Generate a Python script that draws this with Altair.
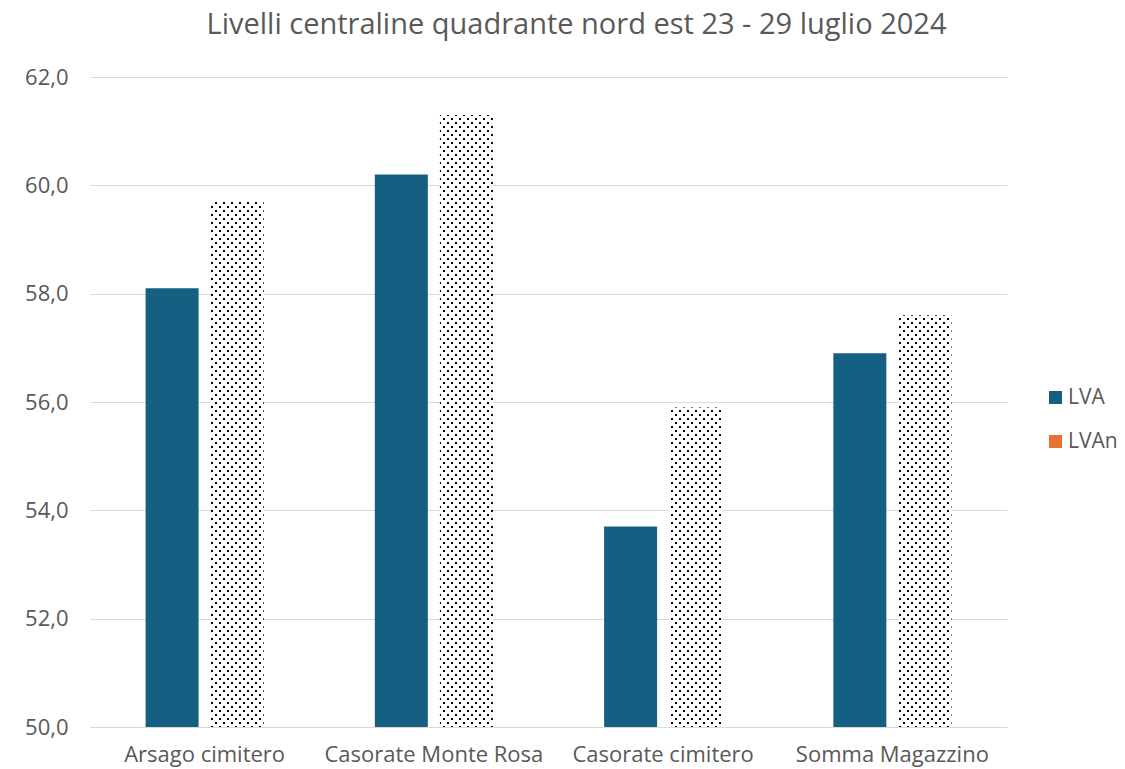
import altair as alt
import pandas as pd
import jinja2

sites = ["Arsago cimitero", "Casorate Monte Rosa", "Casorate cimitero", "Somma Magazzino"]
lva = [58.1, 60.2, 53.7, 56.9]
lvan = [59.7, 61.3, 55.9, 57.6]
series = ["LVA", "LVAn"]
y_ticks = [50, 52, 54, 56, 58, 60, 62]

rows = []
for s, a, b in zip(sites, lva, lvan):
    rows.append({"site": s, "series": "LVA", "value": a})
    rows.append({"site": s, "series": "LVAn", "value": b})
df = pd.DataFrame(rows)

FONT = "Open Sans"
TXT = "#595959"
GRID = "#D9D9D9"

bars = alt.Chart(df).mark_bar(strokeWidth=0).encode(
    x=alt.X("site:N", sort=sites, title=None,
            scale=alt.Scale(paddingInner=0.485, paddingOuter=0.2425),
            axis=alt.Axis(labelAngle=0, labelFontSize=22, labelColor=TXT, labelFont=FONT,
                          ticks=False, domainColor=GRID, domainWidth=1, labelPadding=17,
                          labelOverlap=False, labelLimit=0)),
    xOffset=alt.XOffset("series:N", sort=series,
                        scale=alt.Scale(paddingInner=0.185, paddingOuter=0)),
    y=alt.Y("value:Q", title=None,
            scale=alt.Scale(domain=[50, 62], nice=False, zero=False),
            axis=alt.Axis(values=y_ticks, labelExpr="replace(format(datum.value, '.1f'), '.', ',')",
                          labelFontSize=22, labelColor=TXT, labelFont=FONT, ticks=False,
                          domain=False, gridColor=GRID, gridWidth=1, labelPadding=22)),
    y2=alt.datum(50),
    fill=alt.condition(
        "datum.series == 'LVAn'",
        alt.value("url(#dots)"),
        alt.Fill("series:N", sort=series, title=None,
                 scale=alt.Scale(domain=series, range=["#156082", "#E97132"]),
                 legend=alt.Legend(orient="none", legendX=955, legendY=310,
                                   symbolType="square", symbolSize=170, symbolStrokeWidth=0,
                                   labelFontSize=21, labelColor=TXT, labelFont=FONT,
                                   rowPadding=22, labelOffset=2)),
    ),
)

chart = bars.properties(
    width=917,
    height=650,
    title=alt.Title("Livelli centraline quadrante nord est 23 - 29 luglio 2024",
                    fontSize=29, font=FONT, fontWeight="normal", color=TXT,
                    anchor="middle", dx=28, offset=26),
    padding={"left": 82, "top": 69, "right": 110, "bottom": 42},
    autosize=alt.AutoSizeParams(type="none"),
).configure(background="white").configure_view(stroke=None)

TEMPLATE = jinja2.Template("""<!DOCTYPE html>
<html>
<head>
  <meta charset="utf-8">
  <style>
    body { overflow: hidden; margin-bottom: 0; }
    #{{ output_div }}.vega-embed { width: 100%; display: flex; }
    #{{ output_div }}.vega-embed details,
    #{{ output_div }}.vega-embed details summary { position: relative; }
  </style>
  <script type="text/javascript" src="{{ base_url }}/vega@{{ vega_version }}"></script>
  <script type="text/javascript" src="{{ base_url }}/vega-lite@{{ vegalite_version }}"></script>
  <script type="text/javascript" src="{{ base_url }}/vega-embed@{{ vegaembed_version }}"></script>
</head>
<body>
  <svg width="0" height="0" style="position:absolute">
    <defs>
      <pattern id="dots" width="8" height="8" patternUnits="userSpaceOnUse">
        <rect x="0" y="0" width="8" height="8" fill="white"/>
        <rect x="1" y="1" width="2" height="2" fill="black"/>
        <rect x="5" y="5" width="2" height="2" fill="black"/>
      </pattern>
    </defs>
  </svg>
  <div id="{{ output_div }}"></div>
  <script>
    (function(vegaEmbed) {
      var spec = {{ spec }};
      var embedOpt = {{ embed_options }};
      function showError(el, error){
          el.innerHTML = ('<div style="color:red;"><p>JavaScript Error: ' + error.message + '</p></div>');
          throw error;
      }
      const el = document.getElementById('{{ output_div }}');
      vegaEmbed("#{{ output_div }}", spec, embedOpt)
        .catch(error => showError(el, error));
    })(vegaEmbed);
  </script>
</body>
</html>
""")

chart.save("out.html", embed_options={"renderer": "svg", "actions": False}, template=TEMPLATE)
